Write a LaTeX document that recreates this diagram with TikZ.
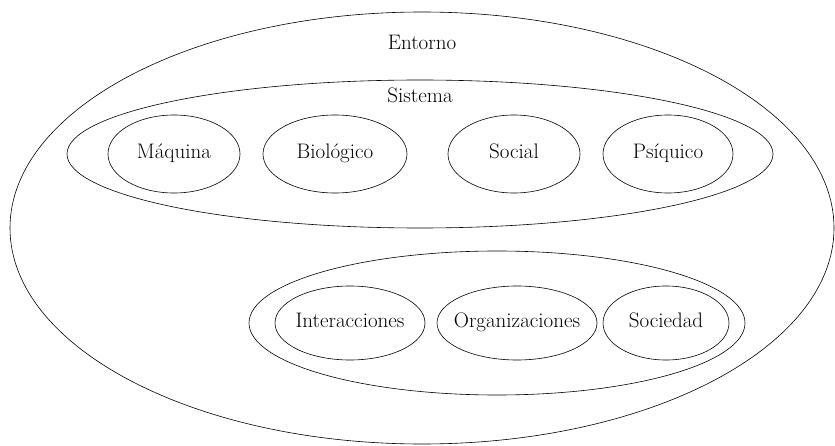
\documentclass[tikz,border=0pt]{standalone}
\usetikzlibrary{shapes.geometric}

\tikzset{
  elipse/.style={draw, ellipse, inner sep=0pt, line width=0.6pt},
  rotulo/.style={inner sep=0pt, text height=13pt, text depth=4pt}
}

\begin{document}
\begin{tikzpicture}[x=1pt,y=1pt,font=\fontsize{21}{24}\selectfont]

\useasboundingbox (0,0) rectangle (835,445);
 %entorno
\node[elipse, minimum width=824pt, minimum height=432pt] (entorno) at (422,217) {};
\node[rotulo] (tentorno) at (422,400) {Entorno};
 %sistema
\node[elipse, minimum width=706pt, minimum height=148pt] (sistema) at (420,291) {};
\node[rotulo] (tsistema) at (420,347) {Sistema};
\node[elipse, minimum width=132pt, minimum height=78pt] (maquina) at (174,291) {};
\node[elipse, minimum width=144pt, minimum height=78pt] (biologico) at (335,291) {};
\node[elipse, minimum width=132pt, minimum height=78pt] (social) at (514,291) {};
\node[elipse, minimum width=130pt, minimum height=78pt] (psiquico) at (668,291) {};
\node[rotulo] (tmaquina) at (maquina) {Máquina};
\node[rotulo] (tbiologico) at (biologico) {Biológico};
\node[rotulo] (tsocial) at (social) {Social};
\node[rotulo] (tpsiquico) at (psiquico) {Psíquico};
 %sociales
\node[elipse, minimum width=496pt, minimum height=144pt] (sociales) at (497,122) {};
\node[elipse, minimum width=150pt, minimum height=74pt] (interacciones) at (350,122) {};
\node[elipse, minimum width=160pt, minimum height=74pt] (organizaciones) at (517,122) {};
\node[elipse, minimum width=126pt, minimum height=74pt] (sociedad) at (666,122) {};
\node[rotulo] (tinteracciones) at (interacciones) {Interacciones};
\node[rotulo] (torganizaciones) at (organizaciones) {Organizaciones};
\node[rotulo] (tsociedad) at (sociedad) {Sociedad};

\end{tikzpicture}
\end{document}
